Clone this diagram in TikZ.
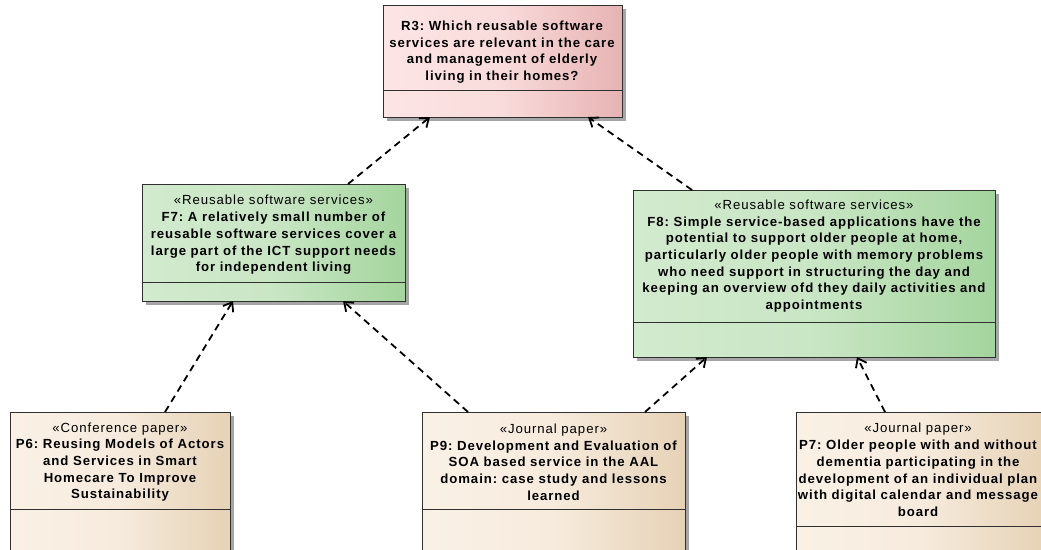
\documentclass[tikz,border=0pt]{standalone}
\usepackage{fontspec}
\setmainfont{Liberation Sans}[LetterSpace=7]
\usetikzlibrary{arrows.meta,shadows,calc}

\definecolor{reqL}{HTML}{FDE5E5}
\definecolor{reqR}{HTML}{E7B3B3}
\definecolor{finL}{HTML}{D2EACE}
\definecolor{finR}{HTML}{A4D59E}
\definecolor{papL}{HTML}{FAF1E6}
\definecolor{papR}{HTML}{E6D2B6}
\definecolor{edge}{HTML}{303030}

\tikzset{
  box/.style={draw=edge, line width=0.9pt, anchor=north west, inner sep=0pt, outer sep=0pt,
    drop shadow={shadow xshift=3.5pt, shadow yshift=-3.5pt, fill=black!35, opacity=1}},
  reqbox/.style={box, left color=reqL, right color=reqR, middle color=reqL!80!reqR},
  finbox/.style={box, left color=finL, right color=finR, middle color=finL!80!finR},
  papbox/.style={box, left color=papL, right color=papR, middle color=papL!80!papR},
  divider/.style={draw=edge, line width=0.9pt},
  boxtext/.style={align=center, inner sep=0pt, font=\fontsize{13.2}{16.7}\selectfont\bfseries\frenchspacing},
  dep/.style={draw=black, line width=1.8pt, dash pattern=on 7pt off 5pt,
    -{Straight Barb[length=8pt,width=12pt]}},
}

\begin{document}
\begin{tikzpicture}[x=1pt,y=-1pt]
\useasboundingbox (0,0) rectangle (1041,549);
\clip (0,0) rectangle (1041,549);

% question box
\node[reqbox, minimum width=239pt, minimum height=112pt] (r3) at (383,5) {};
\draw[divider] ($(r3.north west)+(0,85)$) -- ($(r3.north east)+(0,85)$);
\begin{scope}
  \clip (r3.north west) rectangle (r3.south east);
  \node[boxtext] (r3t) at ($(r3.north west)+(119,47)$)
    {R3: Which reusable software\\services are relevant in the care\\and management of elderly\\living in their homes?};
\end{scope}

% findings
\node[finbox, minimum width=263pt, minimum height=117pt] (f7) at (142,184) {};
\draw[divider] ($(f7.north west)+(0,98)$) -- ($(f7.north east)+(0,98)$);
\begin{scope}
  \clip (f7.north west) rectangle (f7.south east);
  \node[boxtext] (f7t) at ($(f7.north west)+(131.5,51)$)
    {{\mdseries «Reusable software services»}\\F7: A relatively small number of\\reusable software services cover a\\large part of the ICT support needs\\for independent living};
\end{scope}

\node[finbox, minimum width=362pt, minimum height=167pt] (f8) at (633,190) {};
\draw[divider] ($(f8.north west)+(0,132)$) -- ($(f8.north east)+(0,132)$);
\begin{scope}
  \clip (f8.north west) rectangle (f8.south east);
  \node[boxtext] (f8t) at ($(f8.north west)+(181,66)$)
    {{\mdseries «Reusable software services»}\\F8: Simple service-based applications have the\\potential to support older people at home,\\particularly older people with memory problems\\who need support in structuring the day and\\keeping an overview ofd they daily activities and\\appointments};
\end{scope}

% papers
\node[papbox, minimum width=220pt, minimum height=160pt] (p6) at (10,412) {};
\draw[divider] ($(p6.north west)+(0,97)$) -- ($(p6.north east)+(0,97)$);
\begin{scope}
  \clip (p6.north west) rectangle (p6.south east);
  \node[boxtext] (p6t) at ($(p6.north west)+(110,50)$)
    {{\mdseries «Conference paper»}\\P6: Reusing Models of Actors\\and Services in Smart\\Homecare To Improve\\Sustainability};
\end{scope}

\node[papbox, minimum width=263pt, minimum height=160pt] (p9) at (422,412) {};
\draw[divider] ($(p9.north west)+(0,97)$) -- ($(p9.north east)+(0,97)$);
\begin{scope}
  \clip (p9.north west) rectangle (p9.south east);
  \node[boxtext] (p9t) at ($(p9.north west)+(131.5,50)$)
    {{\mdseries «Journal paper»}\\P9: Development and Evaluation of\\SOA based service in the AAL\\domain: case study and lessons\\learned};
\end{scope}

\node[papbox, minimum width=250pt, minimum height=160pt] (p7) at (796,412) {};
\draw[divider] ($(p7.north west)+(0,114)$) -- ($(p7.north east)+(0,114)$);
\begin{scope}
  \clip (p7.north west) rectangle (p7.south east);
  \node[boxtext] (p7t) at ($(p7.north west)+(122,58)$)
    {{\mdseries «Journal paper»}\\P7: Older people with and without\\dementia participating in the\\development of an individual plan\\with digital calendar and message\\board};
\end{scope}

% dependencies
\draw[dep] ($(f7.north west)+(206,0)$) -- ($(r3.south west)+(47,0)$);
\draw[dep] ($(f8.north west)+(59,0)$) -- ($(r3.south west)+(205,0)$);
\draw[dep] ($(p6.north west)+(155,0)$) -- ($(f7.south west)+(91,0)$);
\draw[dep] ($(p9.north west)+(46,0)$) -- ($(f7.south west)+(201,0)$);
\draw[dep] ($(p9.north west)+(223,0)$) -- ($(f8.south west)+(74,0)$);
\draw[dep] ($(p7.north west)+(89,0)$) -- ($(f8.south west)+(224,0)$);
\end{tikzpicture}
\end{document}
